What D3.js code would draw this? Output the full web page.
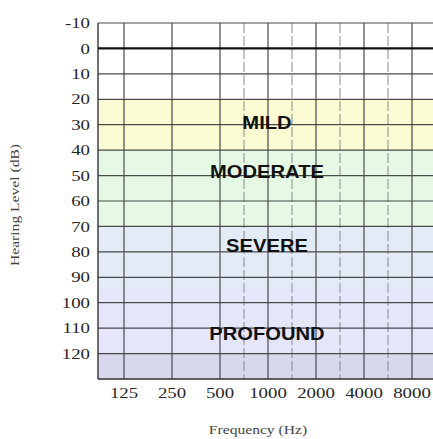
<!DOCTYPE html>
<html>
<head>
<meta charset="utf-8">
<script src="https://cdn.jsdelivr.net/npm/d3@7"></script>
<style>
  html, body { margin: 0; padding: 0; background: #fff; }
  svg { display: block; }
</style>
</head>
<body>
<svg id="chart" width="433" height="439"></svg>
<script>
// audiogram — hearing loss bands
const FREQS = [125, 250, 500, 1000, 2000, 4000, 8000];
const MID_FREQS = [750, 1500, 3000, 6000];
const DB_TICKS = [-10, 0, 10, 20, 30, 40, 50, 60, 70, 80, 90, 100, 110, 120];
const BAND_NAMES = ['MILD', 'MODERATE', 'SEVERE', 'PROFOUND', ''];
const BAND_FROM = [20, 40, 70, 95, 120];
const BAND_TO = [40, 70, 95, 120, 130];
const LABEL_DB = [29, 48.5, 77.5, 112];
const BAND_COLORS = ['#fbfbd3', '#e5f9e5', '#e3ebf7', '#e6e6fa', '#d8d8ec'];

const svg = d3.select('#chart');
const L = 98, R = 436, T = 23, B = 379;
const STRETCH = 1.3;

const x = d3.scaleLog().base(2).domain([125, 8000]).range([124, 412]);
const y = d3.scaleLinear().domain([-10, 130]).range([T, B]);

// ── Bands ────────────────────────────────────────────────────────────────
svg.append('g').selectAll('rect')
  .data(BAND_FROM).join('rect')
  .attr('x', L).attr('width', R - L)
  .attr('y', d => y(d))
  .attr('height', (d, i) => y(BAND_TO[i]) - y(d))
  .attr('fill', (d, i) => BAND_COLORS[i]);

// ── Grid ─────────────────────────────────────────────────────────────────
// inter-octave lines sit halfway between their neighbours
const mid = f => (x(f / 1.5) + x(f / 0.75)) / 2;

svg.append('g').selectAll('line')
  .data(MID_FREQS).join('line')
  .attr('x1', mid).attr('x2', mid)
  .attr('y1', T).attr('y2', B)
  .attr('stroke', '#8a8a8a').attr('stroke-width', 1)
  .attr('stroke-dasharray', '10,3');

svg.append('g').selectAll('line')
  .data(FREQS).join('line')
  .attr('x1', d => x(d)).attr('x2', d => x(d))
  .attr('y1', T).attr('y2', B)
  .attr('stroke', '#4a4a4a').attr('stroke-width', 1.2);

svg.append('g').selectAll('line')
  .data(DB_TICKS.filter(d => d !== 0)).join('line')
  .attr('x1', L).attr('x2', R)
  .attr('y1', d => y(d)).attr('y2', d => y(d))
  .attr('stroke', '#4a4a4a').attr('stroke-width', 1.2);

// frame
svg.append('line').attr('x1', L).attr('x2', L).attr('y1', T).attr('y2', B)
  .attr('stroke', '#333').attr('stroke-width', 1.4);
svg.append('line').attr('x1', L).attr('x2', R).attr('y1', B).attr('y2', B)
  .attr('stroke', '#333').attr('stroke-width', 1.4);

// 0 dB reference
svg.append('line').attr('x1', L).attr('x2', R).attr('y1', y(0)).attr('y2', y(0))
  .attr('stroke', '#111').attr('stroke-width', 2.2);

// ── Tick labels ──────────────────────────────────────────────────────────
const serif = '"Liberation Serif", "DejaVu Serif", serif';

svg.append('g').selectAll('text')
  .data(DB_TICKS).join('text')
  .attr('transform', d => `translate(90,${y(d)}) scale(${STRETCH},1)`)
  .attr('dy', '0.35em')
  .attr('text-anchor', 'end')
  .attr('font-family', serif).attr('font-size', 14.5)
  .attr('fill', '#262626')
  .text(d => d);

svg.append('g').selectAll('text')
  .data(FREQS).join('text')
  .attr('transform', d => `translate(${x(d)},398) scale(${STRETCH},1)`)
  .attr('text-anchor', 'middle')
  .attr('font-family', serif).attr('font-size', 14.5)
  .attr('fill', '#262626')
  .text(d => d);

// axis titles
svg.append('text')
  .attr('transform', `translate(258,434) scale(${STRETCH},1)`)
  .attr('text-anchor', 'middle')
  .attr('font-family', serif).attr('font-size', 12)
  .attr('fill', '#444')
  .text('Frequency (Hz)');

svg.append('text')
  .attr('transform', `translate(19,205) rotate(-90) scale(${STRETCH},1)`)
  .attr('text-anchor', 'middle')
  .attr('font-family', serif).attr('font-size', 12)
  .attr('fill', '#444')
  .text('Hearing Level (dB)');

// ── Band names ───────────────────────────────────────────────────────────
svg.append('g').selectAll('text')
  .data(LABEL_DB).join('text')
  .attr('transform', d => `translate(267,${y(d)}) scale(1.12,1)`)
  .attr('dy', '0.36em')
  .attr('text-anchor', 'middle')
  .attr('font-family', '"Liberation Sans", Arial, sans-serif')
  .attr('font-weight', 'bold').attr('font-size', 18)
  .attr('fill', '#111')
  .text((d, i) => BAND_NAMES[i]);
</script>
</body>
</html>
